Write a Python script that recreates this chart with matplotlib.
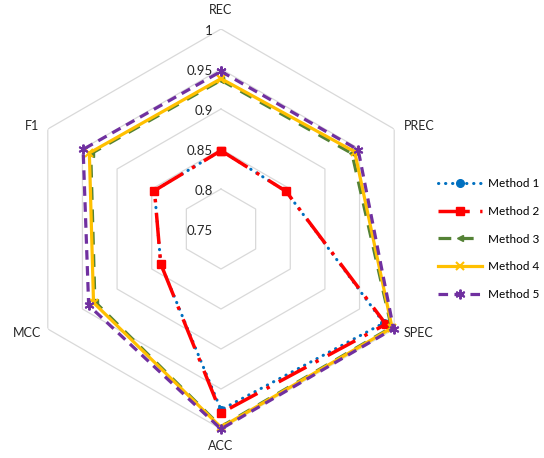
import numpy as np
import matplotlib.pyplot as plt

# axes, clockwise from the top
metrics = ["REC", "PREC", "SPEC", "ACC", "MCC", "F1"]
methods = ["Method 1", "Method 2", "Method 3", "Method 4", "Method 5"]

m1 = [0.848, 0.844, 0.985, 0.976, 0.837, 0.846]
m2 = [0.848, 0.844, 0.988, 0.980, 0.837, 0.846]
m3 = [0.936, 0.939, 0.996, 0.997, 0.932, 0.938]
m4 = [0.938, 0.943, 0.997, 0.998, 0.934, 0.940]
m5 = [0.947, 0.948, 0.999, 1.000, 0.941, 0.949]

ring_levels = [0.75, 0.8, 0.85, 0.9, 0.95, 1.0]
ring_labels = ["0.75", "0.8", "0.85", "0.9", "0.95", "1"]

plt.rcParams["font.family"] = ["Lato", "DejaVu Sans"]
plt.rcParams["font.size"] = 9

fig = plt.figure(figsize=(5.44, 4.58), dpi=100)
ax = fig.add_axes([21 / 544, 29 / 458, 400 / 544, 400 / 458], projection="polar")
ax.set_theta_zero_location("N")
ax.set_theta_direction(-1)
ax.set_ylim(0.75, 1.0)
ax.grid(False)
ax.spines["polar"].set_visible(False)
ax.set_xticks([])
ax.set_yticks([])
ax.patch.set_visible(False)

theta = np.deg2rad(np.arange(len(metrics)) * 60.0)
theta_c = np.append(theta, theta[0])

# hexagonal gridlines
for lv in ring_levels[1:]:
    ax.plot(theta_c, [lv] * len(theta_c), color="#D9D9D9", lw=0.9, zorder=1)

# radial value labels
for lv, lab in zip(ring_levels, ring_labels):
    ax.annotate(lab, xy=(0, lv), xytext=(-6, -1.5), textcoords="offset points",
                ha="right", va="center", fontsize=9.5, color="#262626")

# category labels
offsets = {
    "REC": ((0, 9), "center", "bottom"),
    "PREC": ((7, 2), "left", "center"),
    "SPEC": ((7, -3), "left", "center"),
    "ACC": ((0, -8), "center", "top"),
    "MCC": ((-5, -3), "right", "center"),
    "F1": ((-6, 2), "right", "center"),
}
for t, name in zip(theta, metrics):
    off, ha, va = offsets[name]
    ax.annotate(name, xy=(t, 1.0), xytext=off, textcoords="offset points",
                ha=ha, va=va, fontsize=9, color="#262626", annotation_clip=False)

styles = [
    dict(color="#0070C0", ls=(0, (0.1, 2.2)), lw=2.2, marker="o", ms=5.5,
         dash_capstyle="round"),
    dict(color="#FF0000", ls=(0, (9, 3, 1, 3)), lw=2.5, marker="s", ms=5.5),
    dict(color="#548235", ls=(0, (4, 3)), lw=2.3, marker="<", ms=5),
    dict(color="#FFC000", ls="-", lw=2.3, marker="x", ms=6, mew=1.5),
    dict(color="#7030A0", ls=(0, (3, 2)), lw=2.3, marker=(6, 2, 0), ms=7, mew=1.4),
]

for vals, name, st in zip([m1, m2, m3, m4, m5], methods, styles):
    ax.plot(theta_c, vals + vals[:1], label=name, clip_on=False, zorder=3, **st)

handles, labels = ax.get_legend_handles_labels()
fig.legend(handles, labels, loc="center left", bbox_to_anchor=(438 / 544, 0.478),
           frameon=False, borderpad=0, borderaxespad=0, handlelength=3.7,
           handletextpad=0.55, labelspacing=1.42, fontsize=8.5)

fig.savefig("out.png", dpi=100)
